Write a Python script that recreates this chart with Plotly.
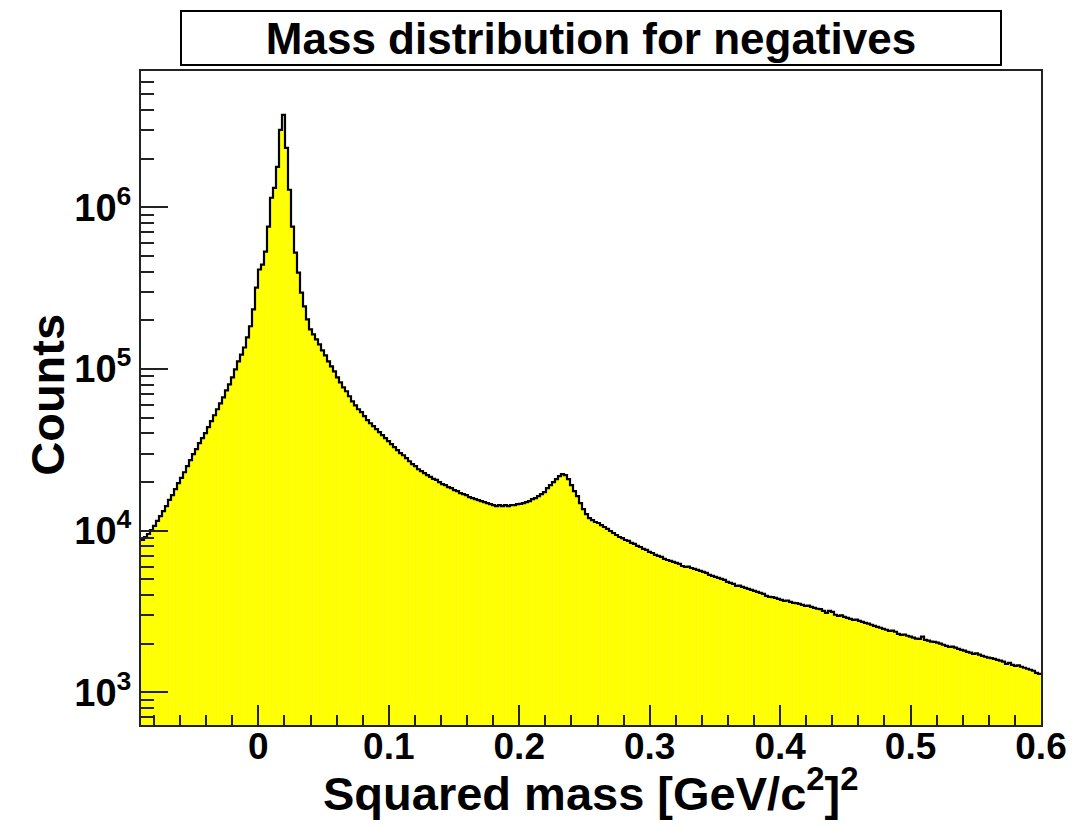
import numpy as np
import plotly.graph_objects as go

# Histogram definition: 300 bins from -0.09 to 0.6 (GeV/c^2)^2
x_min, x_max, n_bins = -0.09, 0.6, 300

counts = [
    8760, 9140, 9540, 10100, 10700, 11500, 12300, 13200, 14200, 15500,
    16600, 18100, 19700, 21200, 23000, 25100, 27300, 29800, 32000, 34800,
    37400, 40100, 43700, 47600, 51800, 56400, 61400, 66900, 73900, 80500,
    88900, 99600, 111600, 123000, 136000, 157000, 184000, 234000, 319000, 413000,
    443000, 533000, 760000, 1148000, 1323000, 1784000, 3018000, 3735000, 2336000, 1286000,
    760000, 525000, 395000, 297500, 244000, 203000, 176000, 164000, 152600, 142100,
    130500, 121500, 111600, 104000, 96800, 88900, 82800, 77100, 72900, 67900,
    63200, 59700, 56400, 54100, 51100, 48300, 46200, 44300, 42500, 40700,
    39000, 37400, 35800, 34300, 32900, 31500, 30200, 29300, 28100, 26900,
    25800, 25100, 24000, 23400, 22700, 22100, 21500, 20900, 20600, 20000,
    19400, 19150, 18600, 18350, 17840, 17590, 17090, 16850, 16610, 16150,
    15920, 15690, 15470, 15250, 15040, 14830, 14620, 14410, 14210, 14410,
    14210, 14410, 14210, 14410, 14390, 14620, 14650, 14830, 15040, 15250,
    15690, 15920, 16380, 16850, 17340, 18350, 19150, 20000, 20860, 21770,
    22390, 22080, 20860, 19150, 17590, 16380, 14830, 13610, 12680, 11980,
    11640, 11320, 11160, 10840, 10540, 10250, 9960, 9680, 9410, 9140,
    9010, 8760, 8640, 8400, 8280, 8050, 7930, 7710, 7600, 7390,
    7280, 7080, 6980, 6880, 6690, 6590, 6500, 6410, 6320, 6230,
    6050, 5970, 5990, 5880, 5800, 5720, 5640, 5560, 5480, 5330,
    5250, 5180, 5110, 5030, 4960, 4820, 4750, 4690, 4560, 4580,
    4490, 4430, 4370, 4300, 4240, 4180, 4120, 4070, 3950, 3900,
    3880, 3840, 3790, 3730, 3680, 3700, 3630, 3580, 3560, 3530,
    3480, 3430, 3440, 3380, 3330, 3290, 3270, 3190, 3100, 3190,
    3150, 3020, 2970, 2990, 2930, 2890, 2850, 2810, 2820, 2770,
    2730, 2690, 2660, 2620, 2580, 2540, 2510, 2470, 2440, 2400,
    2410, 2370, 2300, 2270, 2280, 2240, 2210, 2180, 2150, 2140,
    2210, 2110, 2090, 2060, 2050, 2030, 2000, 1970, 1940, 1910,
    1920, 1890, 1860, 1830, 1810, 1780, 1760, 1730, 1740, 1710,
    1680, 1660, 1640, 1630, 1610, 1590, 1570, 1550, 1500, 1520,
    1480, 1460, 1470, 1440, 1420, 1400, 1380, 1360, 1320, 1300,
]

x_tick_vals = [0, 0.1, 0.2, 0.3, 0.4, 0.5, 0.6]
x_tick_text = ["0", "0.1", "0.2", "0.3", "0.4", "0.5", "0.6"]
y_tick_vals = [1e3, 1e4, 1e5, 1e6]
y_tick_text = ["10<sup>3</sup>", "10<sup>4</sup>", "10<sup>5</sup>", "10<sup>6</sup>"]

title_text = "Mass distribution for negatives"
x_title = "Squared mass [GeV/c<sup>2</sup>]<sup>2</sup>"
y_title = "Counts"

edges = np.linspace(x_min, x_max, n_bins + 1)
centers = 0.5 * (edges[:-1] + edges[1:])
width = edges[1] - edges[0]
counts_arr = np.array(counts, dtype=float)

FONT = "Liberation Sans"
YELLOW = "#ffff00"
FRAME = "#222222"

fig = go.Figure()
fig.add_trace(go.Bar(
    x=centers, y=counts_arr, width=width,
    marker=dict(color=YELLOW, line=dict(color=YELLOW, width=0.6)),
    hoverinfo="skip", showlegend=False,
))
step_x = np.append(edges[:-1], edges[-1])
step_y = np.append(counts_arr, counts_arr[-1])
fig.add_trace(go.Scatter(
    x=step_x, y=step_y, mode="lines", line=dict(shape="hv", color="black", width=2.2),
    showlegend=False, hoverinfo="skip",
))

minor_y = [m * 10 ** e for e in range(2, 7) for m in range(2, 10)]

fig.update_layout(
    width=1076, height=827,
    margin=dict(l=141, r=35, t=71, b=102, autoexpand=False),
    paper_bgcolor="white", plot_bgcolor="white",
    bargap=0,
    font=dict(family=FONT, color="black"),
    annotations=[
        dict(
            text=title_text, xref="paper", yref="paper", x=0.5, y=1.0505,
            xanchor="center", yanchor="middle", showarrow=False,
            font=dict(family=FONT, size=44, color="black", weight="bold"),
            bordercolor="black", borderwidth=2, borderpad=0, bgcolor="white",
            width=818, height=52,
        ),
        dict(
            text=x_title, xref="paper", yref="paper", x=0.5, y=-0.099,
            xanchor="center", yanchor="middle", showarrow=False,
            font=dict(family=FONT, size=47, color="black", weight="bold"),
        ),
        dict(
            text=y_title, xref="paper", yref="paper", x=-0.1033, y=0.505,
            xanchor="center", yanchor="middle", showarrow=False, textangle=-90,
            font=dict(family=FONT, size=47, color="black", weight="bold"),
        ),
    ],
)

fig.update_xaxes(
    range=[x_min, x_max], showgrid=False, zeroline=False,
    showline=True, linecolor=FRAME, linewidth=2, mirror=True,
    ticks="inside", ticklen=20, tickwidth=2, tickcolor=FRAME,
    tickmode="array", tickvals=x_tick_vals, ticktext=x_tick_text,
    tickfont=dict(family=FONT, size=37, weight="bold"),
    ticklabelstandoff=-12,
    minor=dict(ticks="inside", dtick=0.02, tick0=0, ticklen=10, tickwidth=2, tickcolor=FRAME, showgrid=False),
)
fig.update_yaxes(
    type="log", range=[2.798, 6.844], showgrid=False, zeroline=False,
    showline=True, linecolor=FRAME, linewidth=2, mirror=True,
    ticks="inside", ticklen=27, tickwidth=2, tickcolor=FRAME,
    tickmode="array", tickvals=y_tick_vals, ticktext=y_tick_text,
    tickfont=dict(family=FONT, size=38, weight="bold"),
    minor=dict(ticks="inside", tickmode="array", tickvals=minor_y, ticklen=13, tickwidth=2, tickcolor=FRAME, showgrid=False),
)

fig.write_html("out.html")
